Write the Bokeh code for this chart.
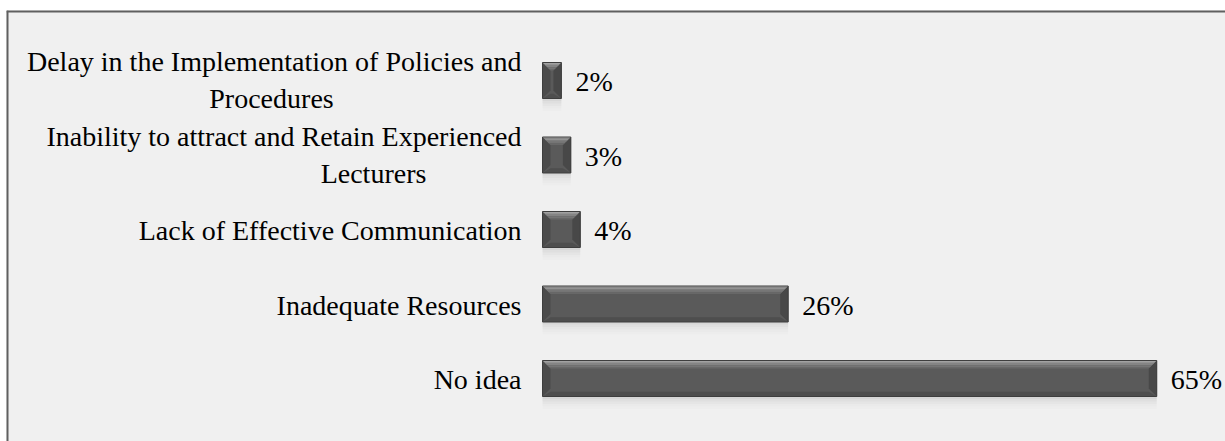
from bokeh.plotting import figure
from bokeh.models import Range1d, ColumnDataSource
from bokeh.core.properties import value
from bokeh.embed import file_html
from bokeh.resources import INLINE

# ---------------- data ----------------
categories = [
    "Delay in the Implementation of Policies and Procedures",
    "Inability to attract and Retain Experienced Lecturers",
    "Lack of Effective Communication",
    "Inadequate Resources",
    "No idea",
]
label_line1 = [
    "Delay in the Implementation of Policies and",
    "Inability to attract and Retain Experienced",
    "Lack of Effective Communication",
    "Inadequate Resources",
    "No idea",
]
label_line2 = ["Procedures", "Lecturers", "", "", ""]
values = [2, 3, 4, 26, 65]
value_labels = ["2%", "3%", "4%", "26%", "65%"]

# ---------------- layout (pixels) ----------------
W, H = 1225, 441
LEFT, TOP = 6, 10
X0_PX = 542          # pixel of value 0
PX_PER_UNIT_X = 9.45
Y0_PX = 80           # centre of first category
PX_PER_CAT = 74.5
frame_w = W - LEFT
frame_h = H - TOP
xs = -(X0_PX - LEFT) / PX_PER_UNIT_X
xe = xs + frame_w / PX_PER_UNIT_X
ye = -(Y0_PX - TOP) / PX_PER_CAT
ys = ye + frame_h / PX_PER_CAT

p = figure(width=W, height=H, output_backend="svg", toolbar_location=None,
           x_range=Range1d(xs, xe), y_range=Range1d(ys, ye),
           min_border_left=LEFT, min_border_top=TOP,
           min_border_right=0, min_border_bottom=0)
p.xaxis.visible = False
p.yaxis.visible = False
p.grid.visible = False
p.outline_line_color = None
p.background_fill_color = "#f0f0f0"
p.border_fill_color = "white"

# chart border (left / top edges visible)
p.segment(x0=[xs, xs], y0=[ys, ye], x1=[xs, xe], y1=[ye, ye],
          line_color="#606060", line_width=4)

ypos = list(range(len(categories)))
bar_h = 36 / PX_PER_CAT
half = bar_h / 2
bx = 8 / PX_PER_UNIT_X   # bevel widths in data units
by = 8 / PX_PER_CAT

# shadow
for k, a in enumerate([0.10, 0.07, 0.045, 0.025, 0.012]):
    s0 = (k * 2.5) / PX_PER_CAT
    s1 = ((k + 1) * 2.5) / PX_PER_CAT
    p.quad(left=[0] * len(values), right=values,
           top=[y + half + s0 for y in ypos], bottom=[y + half + s1 for y in ypos],
           fill_color="black", fill_alpha=a, line_color=None)

# bar body
p.hbar(y=ypos, left=0, right=values, height=bar_h,
       fill_color="#5a5a5a", line_color=None)

def trap(pts_fn):
    xs_l, ys_l = [], []
    for v, y in zip(values, ypos):
        pts = pts_fn(v, y)
        xs_l.append([q[0] for q in pts])
        ys_l.append([q[1] for q in pts])
    return xs_l, ys_l

# left bevel
lx, ly = trap(lambda v, y: [(0, y - half), (bx, y - half + by), (bx, y + half - by), (0, y + half)])
p.patches(lx, ly, fill_color="#4b4b4b", line_color=None)
# right bevel
rx, ry = trap(lambda v, y: [(v, y - half), (v - bx, y - half + by), (v - bx, y + half - by), (v, y + half)])
p.patches(rx, ry, fill_color="#484848", line_color=None)
# bottom bevel
bx_, by_ = trap(lambda v, y: [(0, y + half), (v, y + half), (v - bx, y + half - by * 0.6), (bx, y + half - by * 0.6)])
p.patches(bx_, by_, fill_color="#4e4e4e", line_color=None)
# top bevel gradient strips
cols = ["#a2a2a2", "#939393", "#848484", "#757575", "#686868"]
n = len(cols)
for k, c in enumerate(cols):
    f0, f1 = k / n, (k + 1) / n
    tx, ty = trap(lambda v, y, f0=f0, f1=f1: [
        (bx * f0, y - half + by * f0), (v - bx * f0, y - half + by * f0),
        (v - bx * f1, y - half + by * f1), (bx * f1, y - half + by * f1)])
    p.patches(tx, ty, fill_color=c, line_color=None)

# outline of the bar
p.quad(left=[0] * len(values), right=values,
       top=[y - half for y in ypos], bottom=[y + half for y in ypos],
       fill_color=None, line_color="#3e3e3e", line_width=1)

FONT = value("Liberation Serif")
FS = "28px"

# value labels
src_v = ColumnDataSource(dict(x=values, y=ypos, t=value_labels))
p.text(x="x", y="y", text="t", source=src_v, x_offset=14, y_offset=1,
       text_font=FONT, text_font_size=FS, text_color="black",
       text_align="left", text_baseline="middle")

# category labels
one_y, one_l = [], []
two_y, two_l1, two_l2 = [], [], []
for y, l1, l2 in zip(ypos, label_line1, label_line2):
    if l2:
        two_y.append(y); two_l1.append(l1); two_l2.append(l2)
    else:
        one_y.append(y); one_l.append(l1)

p.text(x=[0] * len(one_y), y=one_y, text=one_l, x_offset=-21, y_offset=1,
       text_font=FONT, text_font_size=FS, text_color="black",
       text_align="right", text_baseline="middle")
p.text(x=[0] * len(two_y), y=two_y, text=two_l1, x_offset=-21, y_offset=-19,
       text_font=FONT, text_font_size=FS, text_color="black",
       text_align="right", text_baseline="middle")
line2_center_offsets = [-271, -169]
p.text(x=[0] * len(two_y), y=two_y, text=two_l2, x_offset=line2_center_offsets, y_offset=18,
       text_font=FONT, text_font_size=FS, text_color="black",
       text_align="center", text_baseline="middle")

open("out.html", "w").write(file_html(p, INLINE))
